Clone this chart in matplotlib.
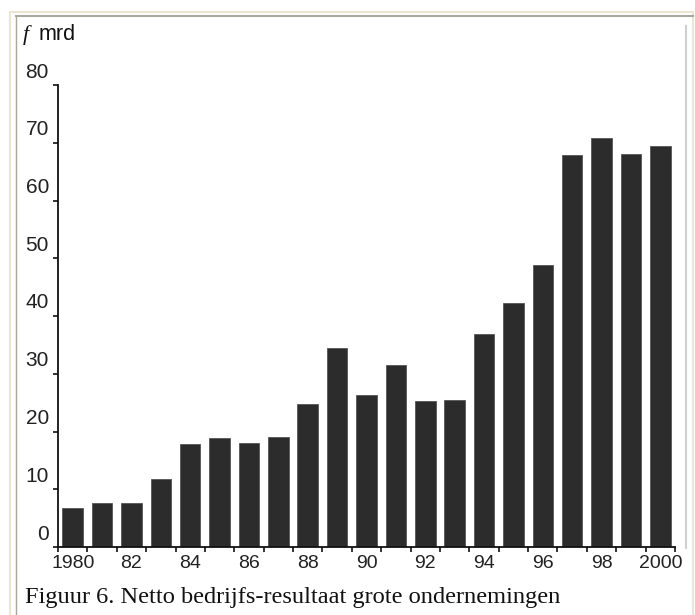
import numpy as np
import matplotlib
matplotlib.use('Agg')
import matplotlib.pyplot as plt
from matplotlib.lines import Line2D
from matplotlib.transforms import ScaledTranslation

# data (f mrd)
years = list(range(1980, 2001))
values = [6.8, 7.6, 7.7, 11.8, 17.9, 18.9, 18.0, 19.1, 24.7, 34.4, 26.4,
          31.5, 25.3, 25.4, 36.9, 42.3, 48.8, 67.8, 70.8, 68.0, 69.4]
xlabels = ['1980', '82', '84', '86', '88', '90', '92', '94', '96', '98', '2000']
yticks = [0, 10, 20, 30, 40, 50, 60, 70, 80]

W, H = 695, 615
fig = plt.figure(figsize=(W / 100, H / 100), dpi=100)
fig.patch.set_facecolor('white')

# frame lines around the panel (pixel coords -> figure fraction)
def px_line(x0, y0, x1, y1, color, lw=1.2):
  fig.add_artist(Line2D([x0 / W, x1 / W], [1 - y0 / H, 1 - y1 / H],
                        transform=fig.transFigure, color=color, lw=lw))

beige = '#ebe6d2'
gray = '#a8a7a0'
px_line(10, 12, 10, 615, beige, 1.5)
px_line(10, 12, 693, 12, beige, 1.5)
px_line(693, 12, 693, 615, beige, 1.5)
px_line(15.5, 16, 15.5, 615, gray, 1.0)
px_line(15.5, 16, 693, 16, gray, 1.5)
px_line(686, 26, 686, 548, '#cfcfcf', 1.5)

ax = fig.add_axes([58 / W, 1 - 547 / H, (675 - 58) / W, (547 - 85) / H])

pos = np.arange(len(years))
ax.bar(pos, values, width=0.7, color='#2c2c2c', edgecolor='#555555', linewidth=0.6)

ax.set_xlim(-0.5, len(years) - 0.5)
ax.set_ylim(0, 80)

for s in ['top', 'right']:
  ax.spines[s].set_visible(False)
for s in ['left', 'bottom']:
  ax.spines[s].set_linewidth(1.3)
  ax.spines[s].set_color('#111111')

# x: labels under even years, small ticks between the bars
ax.set_xticks(pos[::2])
ax.set_xticklabels(xlabels)
ax.set_xticks(np.arange(-0.5, len(years)), minor=True)
ax.tick_params(axis='x', which='major', length=0, pad=6, labelsize=14,
               labelcolor='#222222')
ax.tick_params(axis='x', which='minor', length=3.5, width=1.2, direction='out',
               color='#111111')

ax.set_yticks(yticks)
ax.tick_params(axis='y', length=3.5, width=1.2, direction='out', pad=3,
               labelsize=15, labelcolor='#222222', color='#111111')
# the labels sit a bit above their ticks in the original
for lab in ax.get_yticklabels():
  lab.set_transform(lab.get_transform() + ScaledTranslation(0, 0.15, fig.dpi_scale_trans))
for lab in ax.get_xticklabels() + ax.get_yticklabels():
  lab.set_family('Liberation Sans')

# unit label at top left
fig.text(23 / W, 1 - 35 / H, 'f', family='Liberation Serif', style='italic',
         size=16, va='center', ha='left', color='#111111')
fig.text(39 / W, 1 - 35 / H, 'mrd', family='Liberation Sans', size=15.5,
         va='center', ha='left', color='#111111')

fig.text(25 / W, 1 - 598 / H, 'Figuur 6. Netto bedrijfs-resultaat grote ondernemingen',
         family='Liberation Serif', size=17.6, va='center', ha='left', color='#111111')

fig.savefig('out.png', dpi=100)
